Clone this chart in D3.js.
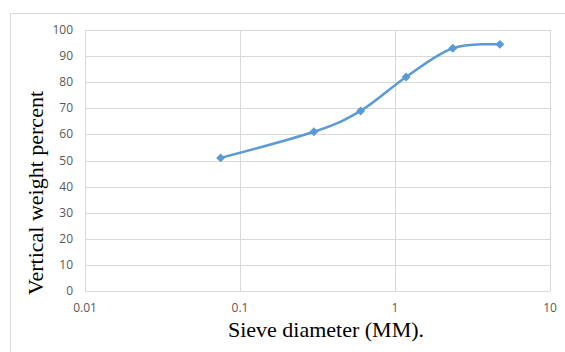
<!DOCTYPE html>
<html>
<head>
<meta charset="utf-8">
<script src="https://cdn.jsdelivr.net/npm/d3@7"></script>
<style>
  body { margin: 0; background: #fff; }
  svg { display: block; }
</style>
</head>
<body>
<svg id="chart" width="565" height="352"></svg>
<script>
// sieve sizes (mm) and percent passing
const sieveSizes = [0.075, 0.3, 0.6, 1.18, 2.36, 4.75];
const percentPassing = [51, 61, 69, 82, 93, 94.5];
const xTicks = [0.01, 0.1, 1, 10];
const yTicks = [0, 10, 20, 30, 40, 50, 60, 70, 80, 90, 100];

const svg = d3.select('#chart');
const plotLeft = 85, plotRight = 550, plotTop = 30, plotBottom = 291;

// outer chart frame
svg.append('rect')
  .attr('x', 10.5).attr('y', 13.5)
  .attr('width', 600).attr('height', 400)
  .attr('fill', 'none').attr('stroke', '#d9d9d9');

const x = d3.scaleLog().domain([0.01, 10]).range([plotLeft, plotRight]);
const y = d3.scaleLinear().domain([0, 100]).range([plotBottom, plotTop]);

// gridlines
svg.append('g')
  .selectAll('line')
  .data(yTicks)
  .enter()
  .append('line')
  .attr('x1', plotLeft).attr('x2', plotRight)
  .attr('y1', (d) => Math.round(y(d)) + 0.5)
  .attr('y2', (d) => Math.round(y(d)) + 0.5)
  .attr('stroke', '#d9d9d9');

svg.append('g')
  .selectAll('line')
  .data(xTicks)
  .enter()
  .append('line')
  .attr('x1', (d) => Math.round(x(d)) + 0.5)
  .attr('x2', (d) => Math.round(x(d)) + 0.5)
  .attr('y1', plotTop).attr('y2', plotBottom)
  .attr('stroke', '#d9d9d9');

// tick labels
svg.append('g')
  .selectAll('text')
  .data(yTicks)
  .enter()
  .append('text')
  .attr('x', plotLeft - 12)
  .attr('y', (d) => y(d) + 4)
  .attr('text-anchor', 'end')
  .attr('font-family', 'Open Sans, sans-serif')
  .attr('font-size', 12)
  .attr('fill', '#595959')
  .text((d) => d);

svg.append('g')
  .selectAll('text')
  .data(xTicks)
  .enter()
  .append('text')
  .attr('x', (d) => x(d))
  .attr('y', plotBottom + 21)
  .attr('text-anchor', 'middle')
  .attr('font-family', 'Open Sans, sans-serif')
  .attr('font-size', 12)
  .attr('fill', '#595959')
  .text((d) => d);

// axis titles
svg.append('text')
  .attr('x', 326).attr('y', 337)
  .attr('text-anchor', 'middle')
  .attr('font-family', 'Liberation Serif, Times New Roman, serif')
  .attr('font-size', 22)
  .attr('fill', '#000')
  .text('Sieve diameter (MM).');

svg.append('text')
  .attr('transform', 'translate(43,193) rotate(-90)')
  .attr('text-anchor', 'middle')
  .attr('font-family', 'Liberation Serif, Times New Roman, serif')
  .attr('font-size', 22)
  .attr('fill', '#000')
  .text('Vertical weight percent');

// smoothed series
const points = sieveSizes.map((s, i) => [s, percentPassing[i]]);
const line = d3.line()
  .x((d) => x(d[0]))
  .y((d) => y(d[1]))
  .curve(d3.curveCardinal.tension(0));

svg.append('path')
  .datum(points)
  .attr('d', line)
  .attr('fill', 'none')
  .attr('stroke', '#5b9bd5')
  .attr('stroke-width', 2.5)
  .attr('stroke-linecap', 'round');

svg.append('g')
  .selectAll('path')
  .data(points)
  .enter()
  .append('path')
  .attr('transform', (d) => `translate(${x(d[0])},${y(d[1])}) rotate(45)`)
  .attr('d', d3.symbol(d3.symbolSquare, 40)())
  .attr('fill', '#5b9bd5');
</script>
</body>
</html>
